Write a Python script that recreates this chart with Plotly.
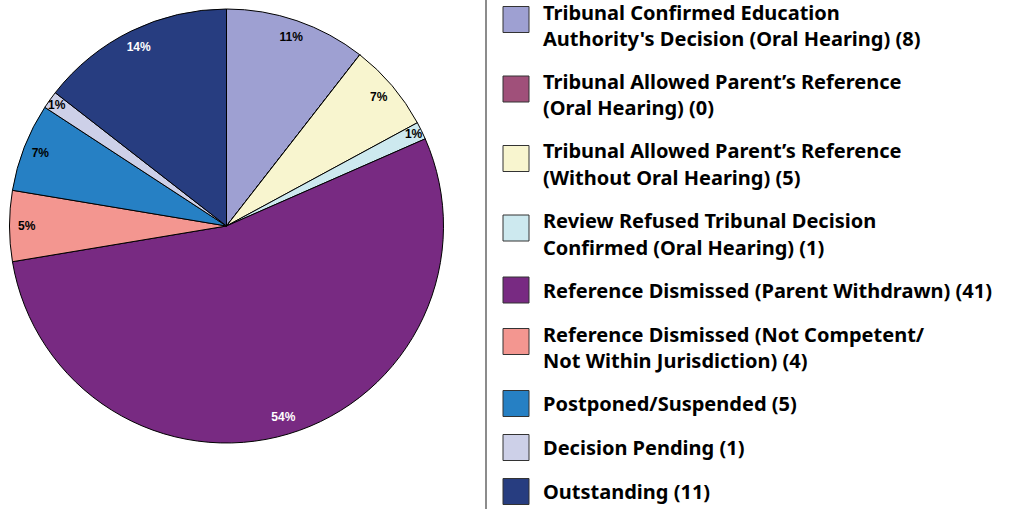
import plotly.graph_objects as go

W, H = 1009, 509

categories = [
    "Tribunal Confirmed Education<br>Authority's Decision (Oral Hearing)",
    "Tribunal Allowed Parent’s Reference<br>(Oral Hearing)",
    "Tribunal Allowed Parent’s Reference<br>(Without Oral Hearing)",
    "Review Refused Tribunal Decision<br>Confirmed (Oral Hearing)",
    "Reference Dismissed (Parent Withdrawn)",
    "Reference Dismissed (Not Competent/<br>Not Within Jurisdiction)",
    "Postponed/Suspended",
    "Decision Pending",
    "Outstanding",
]
counts = [8, 0, 5, 1, 41, 4, 5, 1, 11]
colors = ["#9ea0d2", "#a0507a", "#f8f5cf", "#cde9ef", "#782a82",
          "#f39690", "#2680c4", "#cdd0e8", "#273d80"]
text_colors = ["black", "black", "black", "black", "white",
               "black", "black", "black", "white"]


def px_x(x):
    return x / W


def px_y(y):
    return 1 - y / H


pie_domain = dict(x=[px_x(9), px_x(444)], y=[px_y(443), px_y(9)])
labels = [c.replace("<br>", " ") for c in categories]

fig = go.Figure()
fig.add_trace(go.Pie(
    labels=labels, values=counts, sort=False,
    direction="clockwise", rotation=0,
    marker=dict(colors=colors, line=dict(color="black", width=1)),
    textinfo="none",
    showlegend=False,
    hoverinfo="label+value+percent",
    domain=pie_domain,
))
# transparent ring on top only to place the % labels near the rim
fig.add_trace(go.Pie(
    labels=labels, values=counts, sort=False,
    direction="clockwise", rotation=0, hole=0.84,
    marker=dict(colors=["rgba(0,0,0,0)"] * len(counts), line=dict(width=0)),
    texttemplate=["%{percent:.0%}" if v else "" for v in counts],
    textposition="inside",
    insidetextorientation="horizontal",
    textfont=dict(family="Liberation Sans", size=12, color=text_colors, weight="bold"),
    showlegend=False,
    hoverinfo="skip",
    domain=pie_domain,
))

# hand-built legend: 26px swatches, bold two-line labels
shapes = [dict(type="line", xref="paper", yref="paper",
               x0=px_x(486), x1=px_x(486), y0=0, y1=1,
               line=dict(color="#666666", width=1.5))]
annotations = []
line1 = 12
for name, n, col in zip(categories, counts, colors):
    lines = (name + f" ({n})").split("<br>")
    nl = len(lines)
    box_c = line1 + 7.5 * (nl - 1)
    shapes.append(dict(type="rect", xref="paper", yref="paper",
                       x0=px_x(503), x1=px_x(529),
                       y0=px_y(box_c + 13), y1=px_y(box_c - 13),
                       fillcolor=col, line=dict(color="#333333", width=1)))
    for k, txt in enumerate(lines):
        annotations.append(dict(
            xref="paper", yref="paper", x=px_x(541), y=px_y(line1 + 26.5 * k),
            xanchor="left", yanchor="middle", showarrow=False, text=txt,
            font=dict(family="Noto Sans", size=20, color="black", weight="bold"),
        ))
    line1 += 25.5 * (nl - 1) + 44

fig.update_layout(
    width=W, height=H,
    margin=dict(l=0, r=0, t=0, b=0),
    paper_bgcolor="white",
    plot_bgcolor="white",
    shapes=shapes,
    annotations=annotations,
    uniformtext=dict(minsize=12, mode="show"),
)

fig.write_html("out.html", config={"displayModeBar": False},
               post_script="document.body.style.margin='0';")
